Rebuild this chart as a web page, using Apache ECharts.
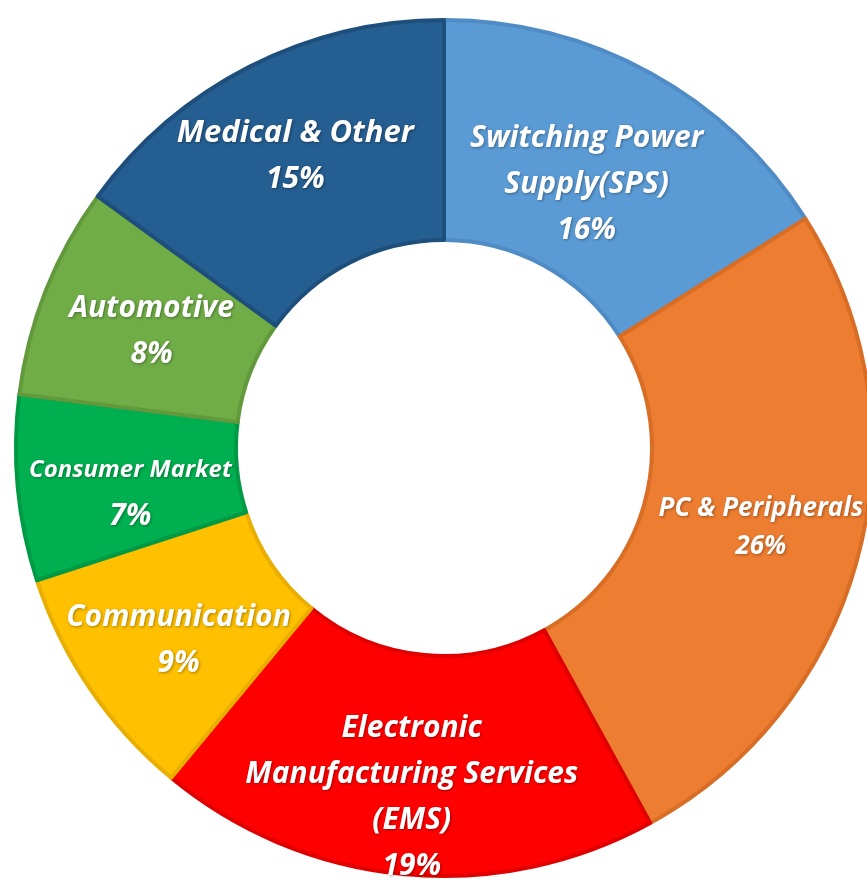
<!DOCTYPE html>
<html>
<head>
<meta charset="utf-8">
<script src="https://cdn.jsdelivr.net/npm/echarts@6/dist/echarts.min.js"></script>
<style>
  html, body { margin: 0; padding: 0; background: #ffffff; }
  #chart { width: 867px; height: 886px; }
</style>
</head>
<body>
<div id="chart"></div>
<script>
// segments, clockwise from 12 o'clock
const segments = [
  'Switching Power\nSupply(SPS)',
  'PC & Peripherals',
  'Electronic\nManufacturing Services\n(EMS)',
  'Communication',
  'Consumer Market',
  'Automotive',
  'Medical & Other'
];
const shares = [16, 26, 19, 9, 7, 8, 15];

const fills = ['#5b9bd5', '#ed7d31', '#ff0000', '#ffc000', '#00b050', '#70ad47', '#255e91'];
const edges = ['#4f8bc4', '#d86d25', '#e00000', '#e8ae00', '#009a45', '#62993c', '#1e4f7c'];

// label tweaks copied by eye from the original
const labelTweaks = {
  'Switching Power\nSupply(SPS)': { offset: [-12, 18] },
  'PC & Peripherals': { offset: [6, 0], size: 26, pct: 26, lh: 38 },
  'Electronic\nManufacturing Services\n(EMS)': { offset: [-2, 30] },
  'Communication': { offset: [0, 12] },
  'Consumer Market': { offset: [6, 15], size: 24 },
  'Automotive': { offset: [6, 2] },
  'Medical & Other': { offset: [-3, -6], size: 31 }
};

const chart = echarts.init(document.getElementById('chart'));

const txt = (size, lh) => ({
  color: '#ffffff',
  fontFamily: 'Open Sans',
  fontStyle: 'italic',
  fontWeight: 'bold',
  fontSize: size,
  lineHeight: lh,
  textShadowColor: 'rgba(0,0,0,0.35)',
  textShadowBlur: 3,
  textShadowOffsetX: 1,
  textShadowOffsetY: 1
});

chart.setOption({
  animation: false,
  series: [
    {
      type: 'pie',
      center: [444, 448],
      radius: [208, 428],
      startAngle: 90,
      clockwise: true,
      labelLine: { show: false },
      label: {
        show: true,
        position: 'inside',
        formatter: (p) =>
          p.name.split('\n').map((s) => '{n|' + s + '}').join('\n') + '\n{v|' + p.value + '%}'
      },
      data: segments.map((name, i) => {
        const t = labelTweaks[name] || {};
        const lh = t.lh || 46;
        return {
          name: name,
          value: shares[i],
          itemStyle: { color: fills[i], borderColor: edges[i], borderWidth: 4 },
          label: {
            offset: t.offset || [0, 0],
            rich: {
              n: txt(t.size || 30, lh),
              v: txt(t.pct || 30, lh)
            }
          }
        };
      })
    }
  ]
});
</script>
</body>
</html>
